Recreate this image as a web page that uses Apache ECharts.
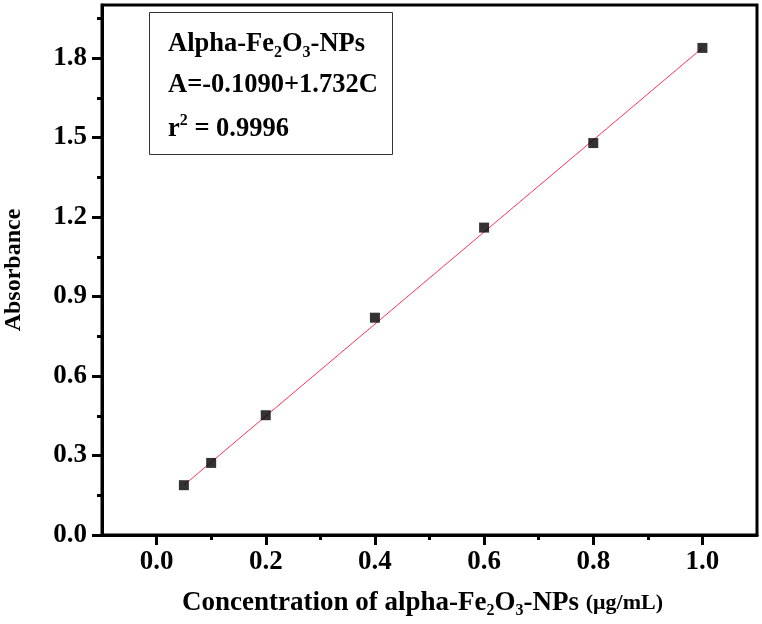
<!DOCTYPE html>
<html><head><meta charset="utf-8">
<script src="https://cdn.jsdelivr.net/npm/echarts@6/dist/echarts.min.js"></script>
<style>html,body{margin:0;padding:0;background:#fff}#c{width:762px;height:624px}</style>
</head><body><div id="c"></div>
<script>
// Data
const concentration = [0.05, 0.1, 0.2, 0.4, 0.6, 0.8, 1.0];
const absorbance = [0.188, 0.272, 0.452, 0.820, 1.160, 1.479, 1.838];
const fitLine = [[0.05, 0.188], [1.0, 1.838]];
const xMajorTicks = [0.0, 0.2, 0.4, 0.6, 0.8, 1.0];
const xMinorTicks = [0.1, 0.3, 0.5, 0.7, 0.9];
const yMajorTicks = [0.0, 0.3, 0.6, 0.9, 1.2, 1.5, 1.8];
const yMinorTicks = [0.15, 0.45, 0.75, 1.05, 1.35, 1.65, 1.95];
const legendLines = ['{L|Alpha-Fe}{s|2}{L|O}{s|3}{L|-NPs}', '{L|A=-0.1090+1.732C}', '{L|r}{p|2}{L| = 0.9996}'];

const FONT = 'Liberation Serif';
const chart = echarts.init(document.getElementById('c'));
const base = {fontFamily: FONT, fontWeight: 'bold', color: '#000'};
const rich = {
  b: Object.assign({}, base, {fontSize: 27, lineHeight: 32}),
  L: Object.assign({}, base, {fontSize: 26.5, lineHeight: 32}),
  s: Object.assign({}, base, {fontSize: 16, lineHeight: 13, verticalAlign: 'bottom'}),
  p: Object.assign({}, base, {fontSize: 16, lineHeight: 16, verticalAlign: 'top'}),
  u: Object.assign({}, base, {fontSize: 22, lineHeight: 32})
};
const axBase = {
  type: 'value', min: -0.1, max: 1.1, splitLine: {show: false}
};
const tickFont = {fontFamily: FONT, fontWeight: 'bold', fontSize: 27, color: '#000'};
chart.setOption({
  animation: false,
  backgroundColor: '#fff',
  grid: {left: 102, right: 5, top: 5, bottom: 89, show: true, borderColor: '#000', borderWidth: 3, containLabel: false, outerBoundsMode: 'none'},
  xAxis: [
    Object.assign({}, axBase, {
      position: 'bottom',
      axisLine: {show: true, onZero: false, lineStyle: {color: '#000', width: 3}},
      axisTick: {show: true, length: 10, customValues: xMajorTicks, lineStyle: {color: '#000', width: 3}},
      axisLabel: Object.assign({customValues: xMajorTicks, margin: 14, formatter: v => v.toFixed(1)}, tickFont),
      name: '{b|Concentration of alpha-Fe}{s|2}{b|O}{s|3}{b|-NPs }{u|(μg/mL)}',
      nameLocation: 'middle', nameGap: 52,
      nameTextStyle: {rich: rich, padding: [0, 14, 0, 0]}
    }),
    Object.assign({}, axBase, {
      position: 'bottom',
      axisLine: {show: false, onZero: false},
      axisTick: {show: true, length: 5, customValues: xMinorTicks, lineStyle: {color: '#000', width: 3}},
      axisLabel: {show: false}
    })
  ],
  yAxis: [
    {
      type: 'value', min: 0, max: 2.0, position: 'left', splitLine: {show: false},
      axisLine: {show: true, onZero: false, lineStyle: {color: '#000', width: 3}},
      axisTick: {show: true, length: 10, customValues: yMajorTicks, lineStyle: {color: '#000', width: 3}},
      axisLabel: Object.assign({customValues: yMajorTicks, margin: 15, formatter: v => v.toFixed(1)}, tickFont),
      name: 'Absorbance', nameLocation: 'middle', nameGap: 76,
      nameTextStyle: {fontFamily: FONT, fontWeight: 'bold', fontSize: 24, color: '#000'}
    },
    {
      type: 'value', min: 0, max: 2.0, position: 'left', splitLine: {show: false},
      axisLine: {show: false, onZero: false},
      axisTick: {show: true, length: 5, customValues: yMinorTicks, lineStyle: {color: '#000', width: 3}},
      axisLabel: {show: false}
    }
  ],
  series: [
    {
      type: 'line', data: fitLine, xAxisIndex: 0, yAxisIndex: 0,
      showSymbol: false, symbol: 'none', lineStyle: {color: '#ff3355', width: 1}, z: 2
    },
    {
      type: 'scatter', data: concentration.map((c, i) => [c, absorbance[i]]),
      xAxisIndex: 0, yAxisIndex: 0,
      symbol: 'rect', symbolSize: 10, itemStyle: {color: '#000'}, z: 3
    }
  ],
  graphic: [
    {type: 'rect', left: 149, top: 12, shape: {width: 243, height: 142}, style: {fill: '#fff', stroke: '#333', lineWidth: 1}, z: 10},
    {type: 'text', left: 168, top: 31, style: {text: legendLines[0], rich: rich, fontFamily: FONT}, z: 11},
    {type: 'text', left: 168, top: 72, style: {text: legendLines[1], rich: rich, fontFamily: FONT}, z: 11},
    {type: 'text', left: 168, top: 113, style: {text: legendLines[2], rich: rich, fontFamily: FONT}, z: 11}
  ]
});
</script></body></html>
